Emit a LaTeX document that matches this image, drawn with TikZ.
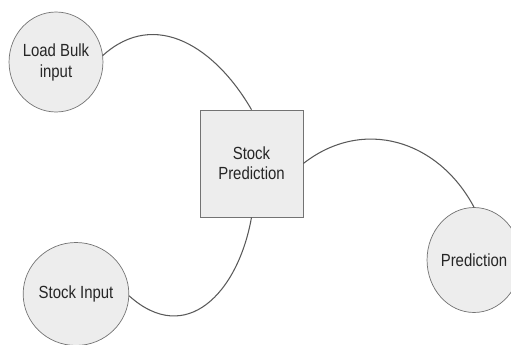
\documentclass[tikz,border=0pt]{standalone}
\usepackage{fontspec}
\setmainfont[FakeStretch=0.85]{Liberation Sans}
\usetikzlibrary{shapes.geometric}
\tikzset{
  proc/.style={ellipse, draw=black!55, fill=black!7, inner sep=0pt, align=center,
    text=black!85, font=\fontsize{10}{12}\selectfont},
  store/.style={rectangle, draw=black!55, fill=black!7, minimum width=2.06cm,
    minimum height=2.14cm, align=center, text=black!85, font=\fontsize{10}{11.5}\selectfont},
  flow/.style={draw=black!65, line width=0.6pt}
}
\begin{document}
\begin{tikzpicture}[x=0.02cm, y=-0.02cm]
      \useasboundingbox (0,0) rectangle (511,345);
      \draw
        (56,62) node[proc, minimum width=1.64cm, minimum height=2cm] (load){Load Bulk\\input}
        (251.5,163.5) node[store] (stock){Stock\\Prediction}
        (76,294) node[proc, minimum width=1.64cm, minimum height=2.06cm] (input){Stock Input}
        (474,260) node[proc, minimum width=1.56cm, minimum height=2.1cm] (pred){Prediction};
      \begin{scope}[flow]
        \draw (load.8) to[out=42, in=120, looseness=1.15] (stock.north);
        \draw (input.-2) to[out=-42, in=-100, looseness=1.35] (stock.south);
        \draw (stock.east) to[out=38, in=118, looseness=1.1] (pred.north);
      \end{scope}
    \end{tikzpicture}
\end{document}
